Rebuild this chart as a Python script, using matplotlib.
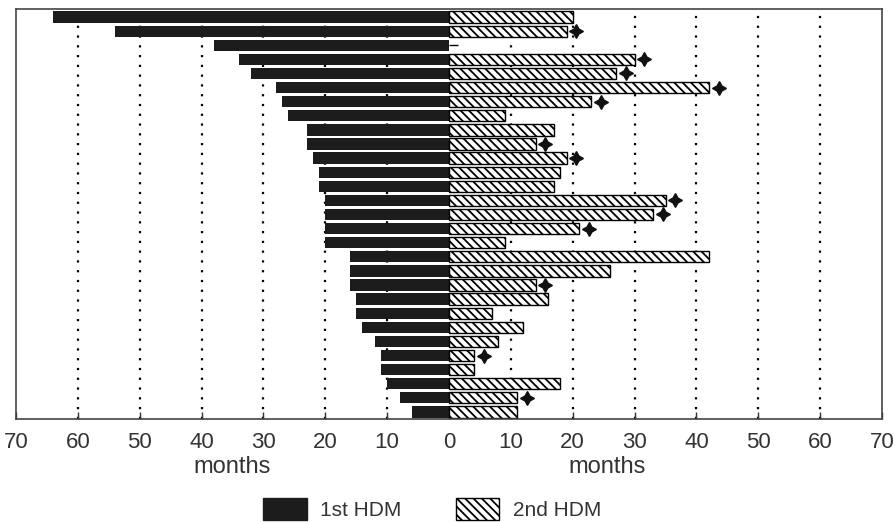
import numpy as np
import matplotlib
matplotlib.use('Agg')
import matplotlib.pyplot as plt
from matplotlib.patches import Patch

# months on 1st and 2nd HDM, one row per patient (top to bottom)
first_hdm = [64, 54, 38, 34, 32, 28, 27, 26, 23, 23, 22, 21, 21, 20, 20,
             20, 20, 16, 16, 16, 15, 15, 14, 12, 11, 11, 10, 8, 6]
second_hdm = [20, 19, 1.5, 30, 27, 42, 23, 9, 17, 14, 19, 18, 17, 35, 33,
              21, 9, 42, 26, 14, 16, 7, 12, 8, 4, 4, 18, 11, 11]
# rows marked with a cross after the 2nd HDM bar
cross = [0, 1, 0, 1, 1, 1, 1, 0, 0, 1, 1, 0, 0, 1, 1,
         1, 0, 0, 0, 1, 0, 0, 0, 0, 1, 0, 0, 1, 0]
ticks = [-70, -60, -50, -40, -30, -20, -10, 0, 10, 20, 30, 40, 50, 60, 70]

plt.rcParams['hatch.linewidth'] = 1.3
plt.rcParams['font.family'] = ['Liberation Sans', 'DejaVu Sans']

first = np.array(first_hdm)
second = np.array(second_hdm)
has_cross = np.array(cross, dtype=bool)
y = np.arange(len(first))

fig = plt.figure(figsize=(8.94, 5.22), dpi=100)
ax = fig.add_axes([16/894, 1-419/522, 866/894, 410/522])

for g in ticks:
    if g not in (-70, 0, 70):
        ax.axvline(g, color='black', linestyle=(0, (1, 3.4)), linewidth=1.6,
                   zorder=1)

h = 0.8
ax.barh(y, -first, height=h, color='#1c1c1c', edgecolor='none', zorder=2)
big = second >= 2
ax.barh(y[big], second[big], height=h, color='white', edgecolor='black',
        hatch='\\\\\\\\', linewidth=1.0, zorder=2)
ax.hlines(y[~big], 0, second[~big], color='black', linewidth=1.0, zorder=2)

ax.plot(second[has_cross] + 1.6, y[has_cross], linestyle='none',
        marker=(4, 1, 0), markersize=10, color='#111111', zorder=3)

ax.set_xlim(-70, 70)
ax.set_ylim(len(first) - 0.5, -0.57)
ax.set_yticks([])
ax.set_xticks(ticks)
ax.set_xticklabels([str(abs(t)) for t in ticks], fontsize=16)
ax.tick_params(axis='x', direction='in', length=5, width=1, pad=9,
               colors='#333333', labelcolor='#333333')
for s in ax.spines.values():
    s.set_linewidth(1.2)
    s.set_color('#444444')

trans = matplotlib.transforms.blended_transform_factory(ax.transData, fig.transFigure)
ax.text(-35, 1-467/522, 'months', transform=trans, ha='center', va='center',
        fontsize=17, color='#333333')
ax.text(25.5, 1-467/522, 'months', transform=trans, ha='center', va='center',
        fontsize=17, color='#333333')

handles = [Patch(facecolor='#1c1c1c', edgecolor='#1c1c1c', label='1st HDM'),
           Patch(facecolor='white', edgecolor='black', hatch='\\\\\\\\',
                 label='2nd HDM')]
fig.legend(handles=handles, loc='center', bbox_to_anchor=(432/894, 1-509/522),
           ncol=2, frameon=False, fontsize=15, handlelength=2.1,
           handleheight=1.3, handletextpad=0.65, columnspacing=2.6,
           labelcolor='#333333')

fig.savefig('out.png', dpi=100)
